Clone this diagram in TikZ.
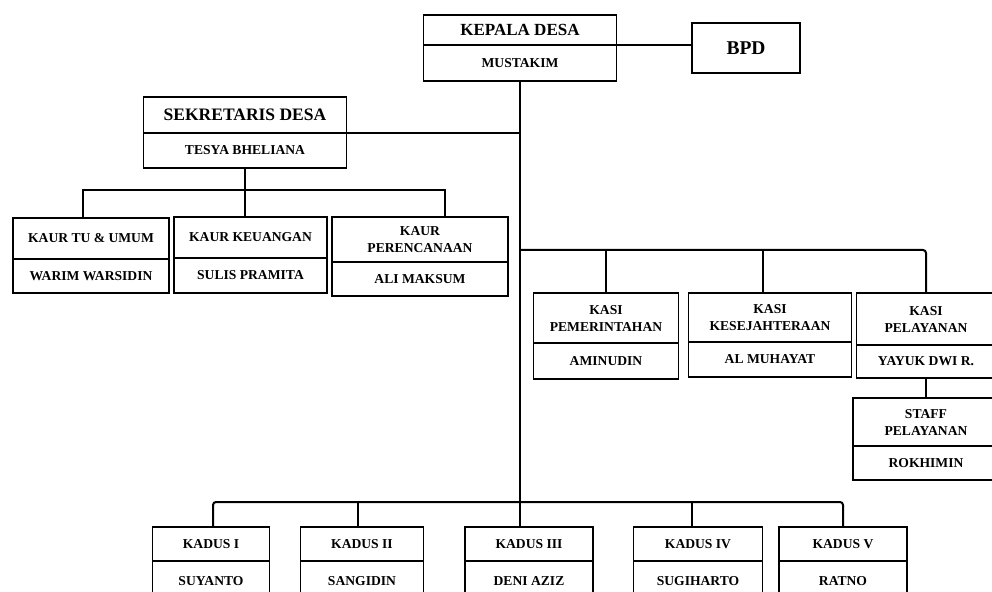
\documentclass[tikz,border=0pt]{standalone}
\usepackage{fontspec}
\setmainfont{Liberation Serif}
\usetikzlibrary{positioning}

\tikzset{
  jabatan/.style={draw, line width=1.6bp, inner sep=1bp, outer sep=0pt, align=center,
    font=\bfseries\fontsize{13.6bp}{17bp}\selectfont},
  judul/.style={jabatan, font=\bfseries\fontsize{17.5bp}{19bp}\selectfont},
  garis/.style={line width=2bp},
}

\begin{document}
\begin{tikzpicture}[x=1bp, y=-1bp]
\path[use as bounding box, clip] (0,0) rectangle (992,592);
% kepala desa dan bpd
\node[judul, font=\bfseries\fontsize{17bp}{19bp}\selectfont, minimum width=193bp, minimum height=30bp] (kepala) at (520,30) {KEPALA DESA};
\node[jabatan, minimum width=193bp, minimum height=36bp, below=0pt of kepala] (kepalanama) {MUSTAKIM};
\node[judul, font=\bfseries\fontsize{19.5bp}{21bp}\selectfont, minimum width=108bp, minimum height=50bp] (bpd) at (746,48) {BPD};
%
\node[judul, minimum width=203bp, minimum height=36bp] (sek) at (245,115) {SEKRETARIS DESA};
\node[jabatan, minimum width=203bp, minimum height=35bp, below=0pt of sek] (seknama) {TESYA BHELIANA};
% kaur
\node[jabatan, minimum width=156bp, minimum height=41bp] (kaurtu) at (91,238.5) {KAUR TU \& UMUM};
\node[jabatan, minimum width=156bp, minimum height=34bp, below=0pt of kaurtu] (kaurtunama) {WARIM WARSIDIN};
\node[jabatan, minimum width=153bp, minimum height=41bp] (kaurkeu) at (250.5,237.5) {KAUR KEUANGAN};
\node[jabatan, minimum width=153bp, minimum height=35bp, below=0pt of kaurkeu] (kaurkeunama) {SULIS PRAMITA};
\node[jabatan, minimum width=176bp, minimum height=45bp] (kaurper) at (420,239.5) {KAUR\\PERENCANAAN};
\node[jabatan, minimum width=176bp, minimum height=34bp, below=0pt of kaurper] (kaurpernama) {ALI MAKSUM};
% kasi
\node[jabatan, minimum width=145bp, minimum height=50bp] (kasipem) at (606,318) {KASI\\PEMERINTAHAN};
\node[jabatan, minimum width=145bp, minimum height=36bp, below=0pt of kasipem] (kasipemnama) {AMINUDIN};
\node[jabatan, minimum width=163bp, minimum height=49bp] (kasikes) at (770,317.5) {KASI\\KESEJAHTERAAN};
\node[jabatan, minimum width=163bp, minimum height=35bp, below=0pt of kasikes] (kasikesnama) {AL MUHAYAT};
\node[jabatan, minimum width=139bp, minimum height=52bp] (kasipel) at (926,319) {KASI\\PELAYANAN};
\node[jabatan, minimum width=139bp, minimum height=33bp, below=0pt of kasipel] (kasipelnama) {YAYUK DWI R.};
\node[jabatan, minimum width=146bp, minimum height=48bp] (staf) at (926,422) {STAFF\\PELAYANAN};
\node[jabatan, minimum width=146bp, minimum height=34bp, below=0pt of staf] (stafnama) {ROKHIMIN};
% kadus
\node[jabatan, minimum width=117bp, minimum height=34bp] (kadus1) at (211,544) {KADUS I};
\node[jabatan, minimum width=117bp, minimum height=40bp, below=0pt of kadus1] (kadus1nama) {SUYANTO};
\node[jabatan, minimum width=123bp, minimum height=34bp] (kadus2) at (362,544) {KADUS II};
\node[jabatan, minimum width=123bp, minimum height=40bp, below=0pt of kadus2] (kadus2nama) {SANGIDIN};
\node[jabatan, minimum width=128bp, minimum height=34bp] (kadus3) at (529,544) {KADUS III};
\node[jabatan, minimum width=128bp, minimum height=40bp, below=0pt of kadus3] (kadus3nama) {DENI AZIZ};
\node[jabatan, minimum width=129bp, minimum height=34bp] (kadus4) at (698,544) {KADUS IV};
\node[jabatan, minimum width=129bp, minimum height=40bp, below=0pt of kadus4] (kadus4nama) {SUGIHARTO};
\node[jabatan, minimum width=128bp, minimum height=34bp] (kadus5) at (843,544) {KADUS V};
\node[jabatan, minimum width=128bp, minimum height=40bp, below=0pt of kadus5] (kadus5nama) {RATNO};
%
\coordinate (busskd) at (247,190);
\coordinate (buskasi) at (520,250);
\coordinate (buskadus) at (520,502);
% garis
\draw[garis] (kepala.south east) -- (kepala.south east -| bpd.west);
\draw[garis] (kepalanama.south) -- (kepalanama.south |- kadus3.north);
\draw[garis] (sek.south east) -- (sek.south east -| kepalanama.south);
\draw[garis] (seknama.south) -- (seknama.south |- kaurkeu.north);
\draw[garis] ([xshift=-8bp]kaurtu.north) |- (busskd) -| ([xshift=25bp]kaurper.north);
\draw[garis, rounded corners=3bp] (buskasi) -| (kasipel.north);
\draw[garis] (kasipem.north) -- (kasipem.north |- buskasi);
\draw[garis] ([xshift=-7bp]kasikes.north) -- ([xshift=-7bp]kasikes.north |- buskasi);
\draw[garis] (kasipelnama.south) -- (staf.north);
\draw[garis, rounded corners=3bp] ([xshift=2bp]kadus1.north) |- (buskadus) -| (kadus5.north);
\draw[garis] ([xshift=-4bp]kadus2.north) -- ([xshift=-4bp]kadus2.north |- buskadus);
\draw[garis] ([xshift=-6bp]kadus4.north) -- ([xshift=-6bp]kadus4.north |- buskadus);
\end{tikzpicture}
\end{document}
